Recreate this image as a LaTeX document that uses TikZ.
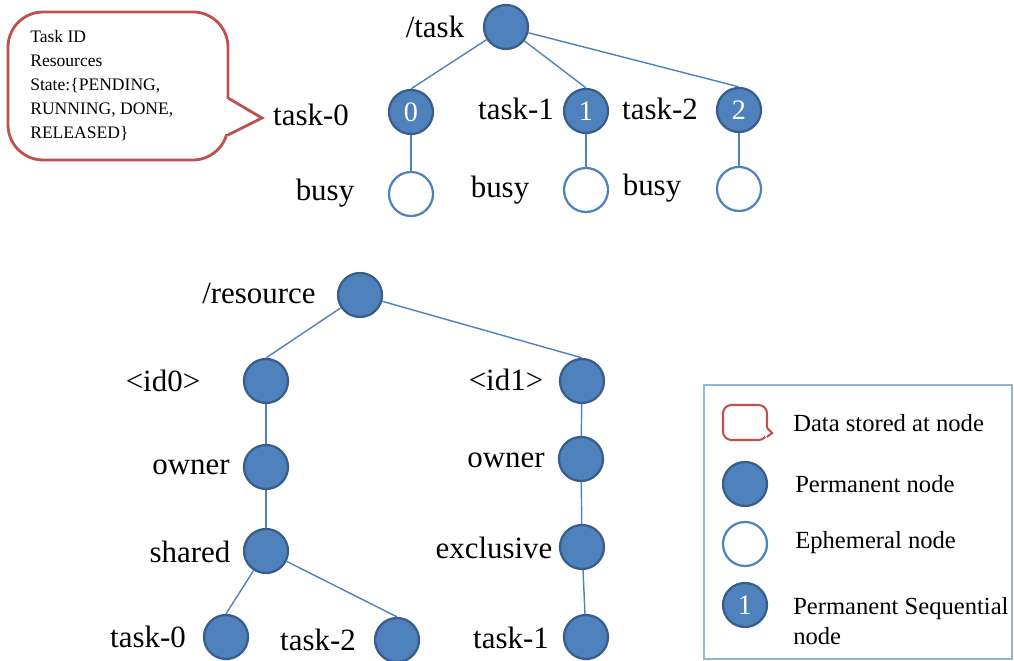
\documentclass[tikz,border=0pt]{standalone}
\usepackage{fontspec}
\setmainfont{Liberation Serif}
\definecolor{nodeblue}{HTML}{4F81BD}
\definecolor{nodeedge}{HTML}{385D8A}
\definecolor{calloutred}{HTML}{C0504D}
\definecolor{legendframe}{HTML}{95B3D7}
\usetikzlibrary{positioning}

\begin{document}
\begin{tikzpicture}[
  x=0.025cm, y=-0.025cm,
  perm/.style={circle, draw=nodeedge, fill=nodeblue, line width=1.6pt,
               minimum size=1.1cm, inner sep=0pt, text=white,
               font=\fontsize{20}{20}\selectfont},
  ephem/.style={circle, draw=nodeblue, fill=white, line width=1.6pt,
                minimum size=1.1cm, inner sep=0pt},
  lbl/.style={font=\fontsize{22}{26}\selectfont, inner sep=0pt},
  legtext/.style={font=\fontsize{17.5}{21}\selectfont, anchor=west,
                  inner sep=0pt, align=left},
  callout/.style={draw=calloutred, line width=2pt, line join=miter},
  link/.style={draw=nodeblue, line width=1pt}
]
\useasboundingbox (0,0) rectangle (1014,661);

% data callout
\draw[callout, rounded corners=25] (8,12) rectangle (228,160);
\fill[white] (225,99) rectangle (232,134);
\draw[callout] (228,98) -- (262,118) -- (228,135);
\node[anchor=north west, align=left, inner sep=0pt,
      font=\fontsize{12.5}{17}\selectfont] (data) at (30,30)
  {Task ID\\Resources\\State:\{PENDING,\\RUNNING, DONE,\\RELEASED\}};

% /task tree
\node[perm] (task) at (506,27) {};
\node[lbl] (tasklbl) at (435,27) {/task};
\node[perm] (t0) at (411,112) {0};
\node[perm] (t1) at (586,111) {1};
\node[perm] (t2) at (739,110) {2};
\node[lbl] (t0lbl) at (311,115) {task-0};
\node[lbl] (t1lbl) at (516,109) {task-1};
\node[lbl] (t2lbl) at (660,109) {task-2};
\node[ephem] (b0) at (411,194) {};
\node[ephem] (b1) at (586,190) {};
\node[ephem] (b2) at (739,189) {};
\node[lbl] (b0lbl) at (325,193) {busy};
\node[lbl] (b1lbl) at (500,190) {busy};
\node[lbl] (b2lbl) at (652,188) {busy};

\draw[link] (task) -- (t0.north);
\draw[link] (task) -- (t1.north);
\draw[link] (task) -- (t2.north);
\draw[link] (t0) -- (b0);
\draw[link] (t1) -- (b1);
\draw[link] (t2) -- (b2);

% /resource tree
\node[perm] (res) at (360,295) {};
\node[lbl] (reslbl) at (259,293) {/resource};
\node[perm] (id0) at (266,381) {};
\node[perm] (id1) at (582,381) {};
\node[lbl] (id0lbl) at (163,381) {<id0>};
\node[lbl] (id1lbl) at (506,380) {<id1>};
\node[perm] (own0) at (266,467) {};
\node[perm] (own1) at (581,459) {};
\node[lbl] (own0lbl) at (191,467) {owner};
\node[lbl] (own1lbl) at (506,460) {owner};
\node[perm] (shr) at (266,551) {};
\node[perm] (exc) at (582,547) {};
\node[lbl] (shrlbl) at (190,552) {shared};
\node[lbl] (exclbl) at (494,548) {exclusive};
\node[perm] (st0) at (226,637) {};
\node[perm] (st2) at (397,640) {};
\node[perm] (et1) at (586,637) {};
\node[lbl] (st0lbl) at (148,637) {task-0};
\node[lbl] (st2lbl) at (318,640) {task-2};
\node[lbl] (et1lbl) at (511,638) {task-1};

\draw[link] (res) -- (id0.north);
\draw[link] (res) -- (id1.north);
\draw[link] (id0) -- (own0);
\draw[link] (id1) -- (own1);
\draw[link] (own0) -- (shr);
\draw[link] (own1) -- (exc);
\draw[link] (shr) -- (st0.north);
\draw[link] (shr) -- (st2.north);
\draw[link] (exc) -- (et1);

% legend
\draw[legendframe, line width=0.8pt] (704,385) rectangle (1012,659);
\draw[callout, line width=1.5pt, rounded corners=6] (723,405) rectangle (767,440);
\fill[white] (765,428) rectangle (769,437);
\draw[callout, line width=1.5pt] (767,428) -- (772,433) -- (767,437);
\node[perm] (lperm) at (745,484) {};
\node[ephem] (leph) at (745,544) {};
\node[perm] (lseq) at (745,605) {1};
\node[legtext] (ldata) at (793,423) {Data stored at node};
\node[legtext] (lpermtxt) at (795,484) {Permanent node};
\node[legtext] (lephtxt) at (795,543) {Ephemeral node};
\node[legtext] (lseqtxt) at (793,621) {Permanent Sequential\\node};
\end{tikzpicture}
\end{document}
